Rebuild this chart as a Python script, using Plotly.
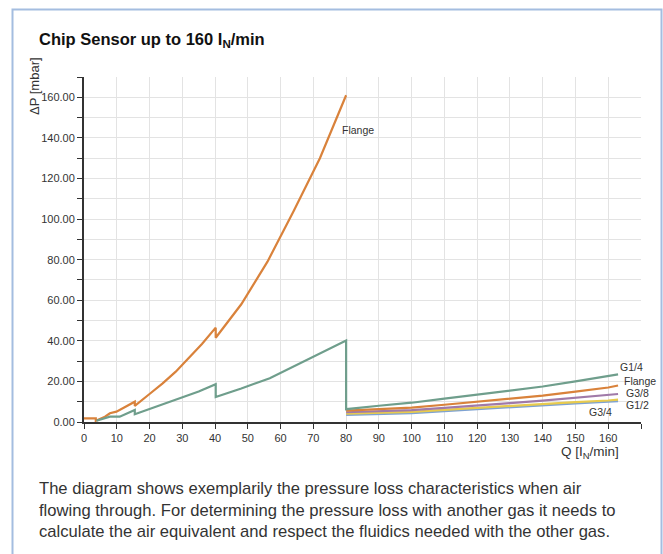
import plotly.graph_objects as go

# ---- data ----
flange_q = [0, 3.6, 3.6, 6.4, 7.9, 9.9, 15.5, 15.5, 20, 24, 28, 32, 36, 40.2, 40.2,
            48, 56, 64, 72, 80, None, 80, 90, 100, 110, 120, 130, 140, 150, 160, 163]
flange_dp = [1.8, 1.8, 0.6, 2.6, 4.3, 5.1, 10, 7.9, 13.8, 19, 24.8, 31.5, 38.4, 46.5, 41.5,
             58, 79, 104, 130, 161, None, 5.6, 6.3, 7.1, 8.5, 10, 11.5, 13, 15, 17, 18]

g14_q = [3.8, 7.9, 10.9, 15.5, 15.5, 20, 30, 35, 40.2, 40.2, 48, 56.7, 80, 80,
         90, 100, 110, 120, 130, 140, 150, 160, 163]
g14_dp = [0.6, 2.6, 2.6, 5.9, 3.8, 6.4, 12, 15, 18.6, 12.3, 16.5, 21.6, 40.2, 6.3,
          8, 9.5, 11.5, 13.5, 15.5, 17.5, 20, 22.5, 23.5]

hi_q = [80, 90, 100, 110, 120, 130, 140, 150, 160, 163]
g38_dp = [4.8, 5.3, 5.9, 7, 8, 9.3, 10.5, 12, 13.3, 13.8]
g12_dp = [4.1, 4.5, 5, 6, 7, 7.8, 8.8, 9.8, 10.6, 11]
g34_dp = [3.5, 4, 4.4, 5.4, 6.4, 7.2, 8.2, 9.2, 10, 10.3]

x_ticks = list(range(0, 161, 10))

FONT = "Liberation Sans, Arial, Helvetica, sans-serif"
TXT = "#333333"

fig = go.Figure()
series = [
    ("G3/4", hi_q, g34_dp, "#7ea2d2"),
    ("G1/2", hi_q, g12_dp, "#e8cb4e"),
    ("G3/8", hi_q, g38_dp, "#a07aa8"),
    ("Flange", flange_q, flange_dp, "#d9823b"),
    ("G1/4", g14_q, g14_dp, "#6f9e8c"),
]
for name, q, dp, col in series:
    fig.add_trace(go.Scatter(x=q, y=dp, mode="lines", name=name, connectgaps=False,
                             line=dict(color=col, width=2.2), showlegend=False))

W, H = 663, 554
L, R, T, B = 84, 22, 77, 132
pw, ph = W - L - R, H - T - B


def px(xp):
    return (xp - L) / pw


def py(yp):
    return (H - B - yp) / ph


fig.update_layout(
    width=W, height=H,
    margin=dict(l=L, r=R, t=T, b=B),
    paper_bgcolor="white", plot_bgcolor="white",
    font=dict(family=FONT, color=TXT, size=11),
    xaxis=dict(range=[0, 170], tickvals=x_ticks, ticktext=[str(v) for v in x_ticks],
               ticks="outside", ticklen=5, tickcolor="#333", tickwidth=1,
               showline=True, linecolor="#333", linewidth=2,
               showgrid=True, gridcolor="#e3e3e3", gridwidth=1,
               minor=dict(dtick=10, tick0=0, ticks="outside", ticklen=5,
                          tickcolor="#333", showgrid=True, gridcolor="#e3e3e3"),
               zeroline=False, tickfont=dict(size=11, color=TXT)),
    yaxis=dict(range=[0, 170], dtick=20, tick0=0, tickformat=".2f",
               ticks="outside", ticklen=5, tickcolor="#333", tickwidth=1,
               showline=True, linecolor="#333", linewidth=2,
               showgrid=True, gridcolor="#e3e3e3", gridwidth=1,
               minor=dict(dtick=10, tick0=0, ticks="outside", ticklen=5,
                          tickcolor="#333", showgrid=True, gridcolor="#e3e3e3"),
               zeroline=False, tickfont=dict(size=11, color=TXT)),
)

ann = []
ann.append(dict(text="<b>Chip Sensor up to 160 I<sub>N</sub>/min</b>", xref="paper", yref="paper",
                x=px(37), y=py(40), xanchor="left", yanchor="middle", showarrow=False,
                font=dict(size=16.5, color="#111", family=FONT)))
ann.append(dict(text="ΔP [mbar]", xref="paper", yref="paper", x=px(35), y=py(86),
                xanchor="center", yanchor="middle", textangle=-90, showarrow=False,
                font=dict(size=13, color=TXT)))
ann.append(dict(text="Q [I<sub>N</sub>/min]", xref="paper", yref="paper", x=px(621), y=py(452),
                xanchor="right", yanchor="middle", showarrow=False,
                font=dict(size=13.5, color=TXT)))
ann.append(dict(text="The diagram shows exemplarily the pressure loss characteristics when air<br>"
                     "flowing through. For determining the pressure loss with another gas it needs to<br>"
                     "calculate the air equivalent and respect the fluidics needed with the other gas.",
                xref="paper", yref="paper", x=px(37), y=py(477), xanchor="left", yanchor="top",
                align="left", showarrow=False, font=dict(size=16.6, color=TXT)))

# series labels
labels = [("Flange", 340, 130), ("G1/4", 618, 367), ("Flange", 622, 380.5),
          ("G3/8", 624, 392.5), ("G1/2", 624, 405), ("G3/4", 587, 412)]
for t, xp, yp in labels:
    ann.append(dict(text=t, xref="paper", yref="paper", x=px(xp), y=py(yp),
                    xanchor="left", yanchor="middle", showarrow=False,
                    font=dict(size=10.5, color=TXT)))
fig.update_layout(annotations=ann)

# outer frame
fig.add_shape(type="rect", xref="paper", yref="paper",
              x0=px(12.5), x1=px(661.5), y0=py(600), y1=py(9.5),
              line=dict(color="#a4bde0", width=2), fillcolor="rgba(0,0,0,0)", layer="below")

fig.write_html("out.html", config={"displayModeBar": False},
               post_script="document.body.style.margin='0px';")
